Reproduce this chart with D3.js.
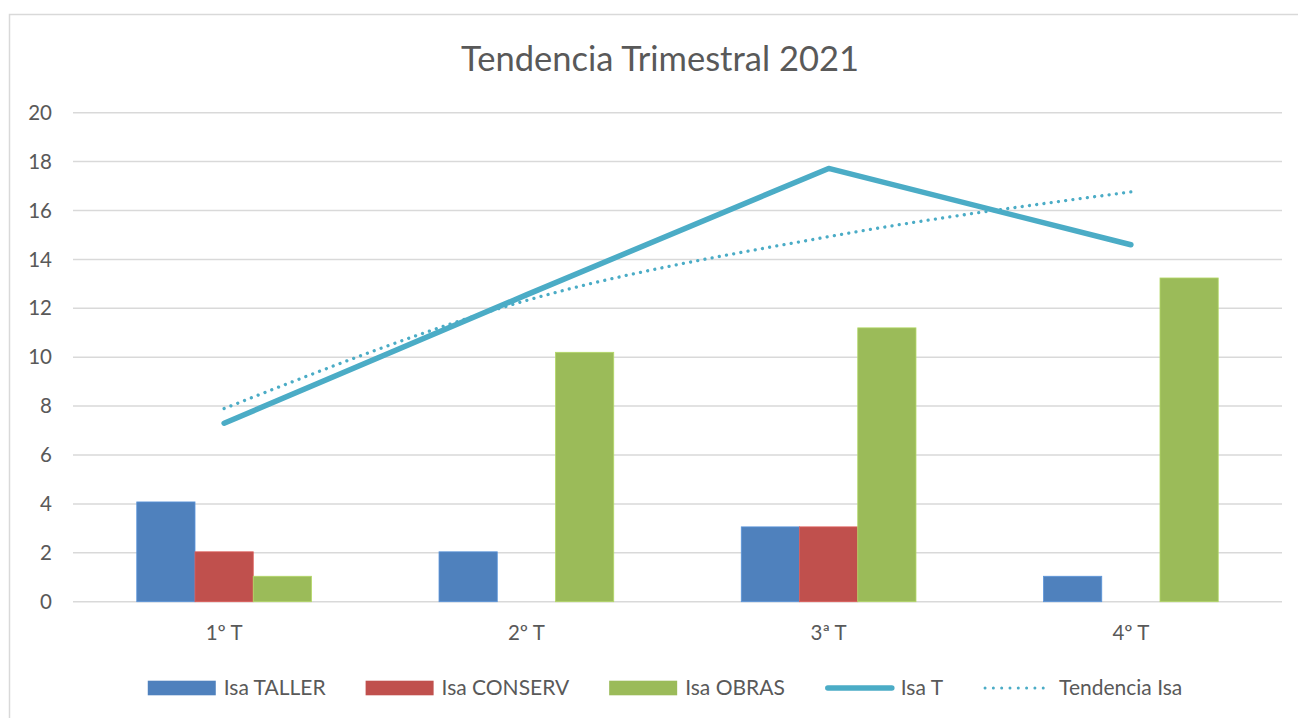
<!DOCTYPE html>
<html lang="es">
<head>
    <meta charset="UTF-8">
    <title>Tendencia Trimestral 2021</title>
    <script src="https://d3js.org/d3.v7.min.js"></script>
    <style>
        body {
            margin: 0;
            background-color: white;
            font-family: "Lato", "Open Sans", sans-serif;
        }
        svg {
            display: block;
        }
    </style>
</head>
<body>
    <svg width="1298" height="718"></svg>

    <script>
        const trimestres = ["1º T", "2º T", "3ª T", "4º T"];
        const isaTaller = [4.08, 2.04, 3.06, 1.04];
        const isaConserv = [2.04, 0, 3.06, 0];
        const isaObras = [1.04, 10.2, 11.2, 13.24];
        const isaT = [7.3, 12.55, 17.72, 14.6];
        const tendenciaIsa = [7.9, 12.32, 14.93, 16.76];
        const yTicks = [0, 2, 4, 6, 8, 10, 12, 14, 16, 18, 20];

        const barSeries = [
            { name: "Isa TALLER", values: isaTaller, color: "#4F81BD" },
            { name: "Isa CONSERV", values: isaConserv, color: "#C0504D" },
            { name: "Isa OBRAS", values: isaObras, color: "#9BBB59" }
        ];
        const lineColor = "#4BACC6";
        const textColor = "#595959";
        const gridColor = "#D9D9D9";
        const fs = 20.5;

        const svg = d3.select("svg");

        // chart frame
        svg.append("rect")
            .attr("x", 9.5).attr("y", 14.5)
            .attr("width", 1300).attr("height", 720)
            .attr("fill", "white")
            .attr("stroke", gridColor)
            .attr("stroke-width", 1.5);

        const x = d3.scaleBand()
            .domain(trimestres)
            .range([73, 1282]);

        const y = d3.scaleLinear()
            .domain([0, 20])
            .range([601.7, 112.7]);

        // bars take 3 slots, gap ~219%
        const barW = x.bandwidth() / (3 + 2.19);
        const inner = d3.scaleBand()
            .domain(barSeries.map(s => s.name))
            .range([0, barW * 3]);
        const offset = (x.bandwidth() - barW * 3) / 2;

        svg.append("text")
            .attr("x", 660)
            .attr("y", 71)
            .attr("text-anchor", "middle")
            .attr("fill", textColor)
            .attr("font-size", 34.5)
            .text("Tendencia Trimestral 2021");

        // grid + y labels
        const grid = svg.append("g");
        grid.selectAll("line")
            .data(yTicks)
            .join("line")
            .attr("x1", 73).attr("x2", 1282)
            .attr("y1", d => y(d)).attr("y2", d => y(d))
            .attr("stroke", gridColor)
            .attr("stroke-width", 1.5);

        grid.selectAll("text")
            .data(yTicks)
            .join("text")
            .attr("x", 52)
            .attr("y", d => y(d))
            .attr("dy", "0.35em")
            .attr("text-anchor", "end")
            .attr("fill", textColor)
            .attr("font-size", fs)
            .text(d => d);

        // bars
        barSeries.forEach(s => {
            svg.append("g")
                .selectAll("rect")
                .data(s.values.map((v, i) => ({ cat: trimestres[i], v })))
                .join("rect")
                .filter(d => d.v > 0)
                .attr("x", d => x(d.cat) + offset + inner(s.name))
                .attr("width", inner.bandwidth())
                .attr("y", d => y(d.v))
                .attr("height", d => y(0) - y(d.v))
                .attr("fill", s.color)
                .attr("stroke", d3.color(s.color).brighter(0.4))
                .attr("stroke-width", 0.8);
        });

        // category labels
        svg.append("g")
            .selectAll("text")
            .data(trimestres)
            .join("text")
            .attr("x", d => x(d) + x.bandwidth() / 2)
            .attr("y", 640)
            .attr("text-anchor", "middle")
            .attr("fill", textColor)
            .attr("font-size", fs)
            .text(d => d);

        const cx = i => x(trimestres[i]) + x.bandwidth() / 2;

        // trend line (dotted)
        svg.append("path")
            .datum(tendenciaIsa)
            .attr("d", d3.line().x((d, i) => cx(i)).y(d => y(d)).curve(d3.curveMonotoneX))
            .attr("fill", "none")
            .attr("stroke", lineColor)
            .attr("stroke-width", 3.3)
            .attr("stroke-linecap", "round")
            .attr("stroke-dasharray", "0.01 7.3");

        // Isa T
        svg.append("path")
            .datum(isaT)
            .attr("d", d3.line().x((d, i) => cx(i)).y(d => y(d)))
            .attr("fill", "none")
            .attr("stroke", lineColor)
            .attr("stroke-width", 5.5)
            .attr("stroke-linecap", "round")
            .attr("stroke-linejoin", "round");

        // legend
        const legendItems = [
            ...barSeries.map(s => ({ name: s.name, type: "box", color: s.color })),
            { name: "Isa T", type: "line", color: lineColor },
            { name: "Tendencia Isa", type: "dot", color: lineColor }
        ];
        const legend = svg.append("g");
        const ly = 688;
        const swW = 69, swGap = 7, itemGap = 40;
        let cursor = 0;
        legendItems.forEach(it => {
            const g = legend.append("g");
            if (it.type === "box") {
                g.append("rect")
                    .attr("x", cursor).attr("y", ly - 7.3)
                    .attr("width", swW - 1).attr("height", 14.6)
                    .attr("fill", it.color);
            } else if (it.type === "line") {
                g.append("line")
                    .attr("x1", cursor + 3).attr("x2", cursor + swW - 2)
                    .attr("y1", ly).attr("y2", ly)
                    .attr("stroke", it.color).attr("stroke-width", 5.5)
                    .attr("stroke-linecap", "round");
            } else {
                g.append("line")
                    .attr("x1", cursor + 2).attr("x2", cursor + swW - 1)
                    .attr("y1", ly).attr("y2", ly)
                    .attr("stroke", it.color).attr("stroke-width", 3)
                    .attr("stroke-linecap", "round")
                    .attr("stroke-dasharray", "0.01 8.3");
            }
            const t = g.append("text")
                .attr("x", cursor + swW + swGap)
                .attr("y", ly)
                .attr("dy", "0.35em")
                .attr("fill", textColor)
                .attr("font-size", 21)
                .text(it.name);
            const w = t.node().getComputedTextLength();
            cursor += swW + swGap + w + itemGap;
        });
        const totalW = cursor - itemGap;
        legend.attr("transform", `translate(${665 - totalW / 2},0)`);
    </script>
</body>
</html>
